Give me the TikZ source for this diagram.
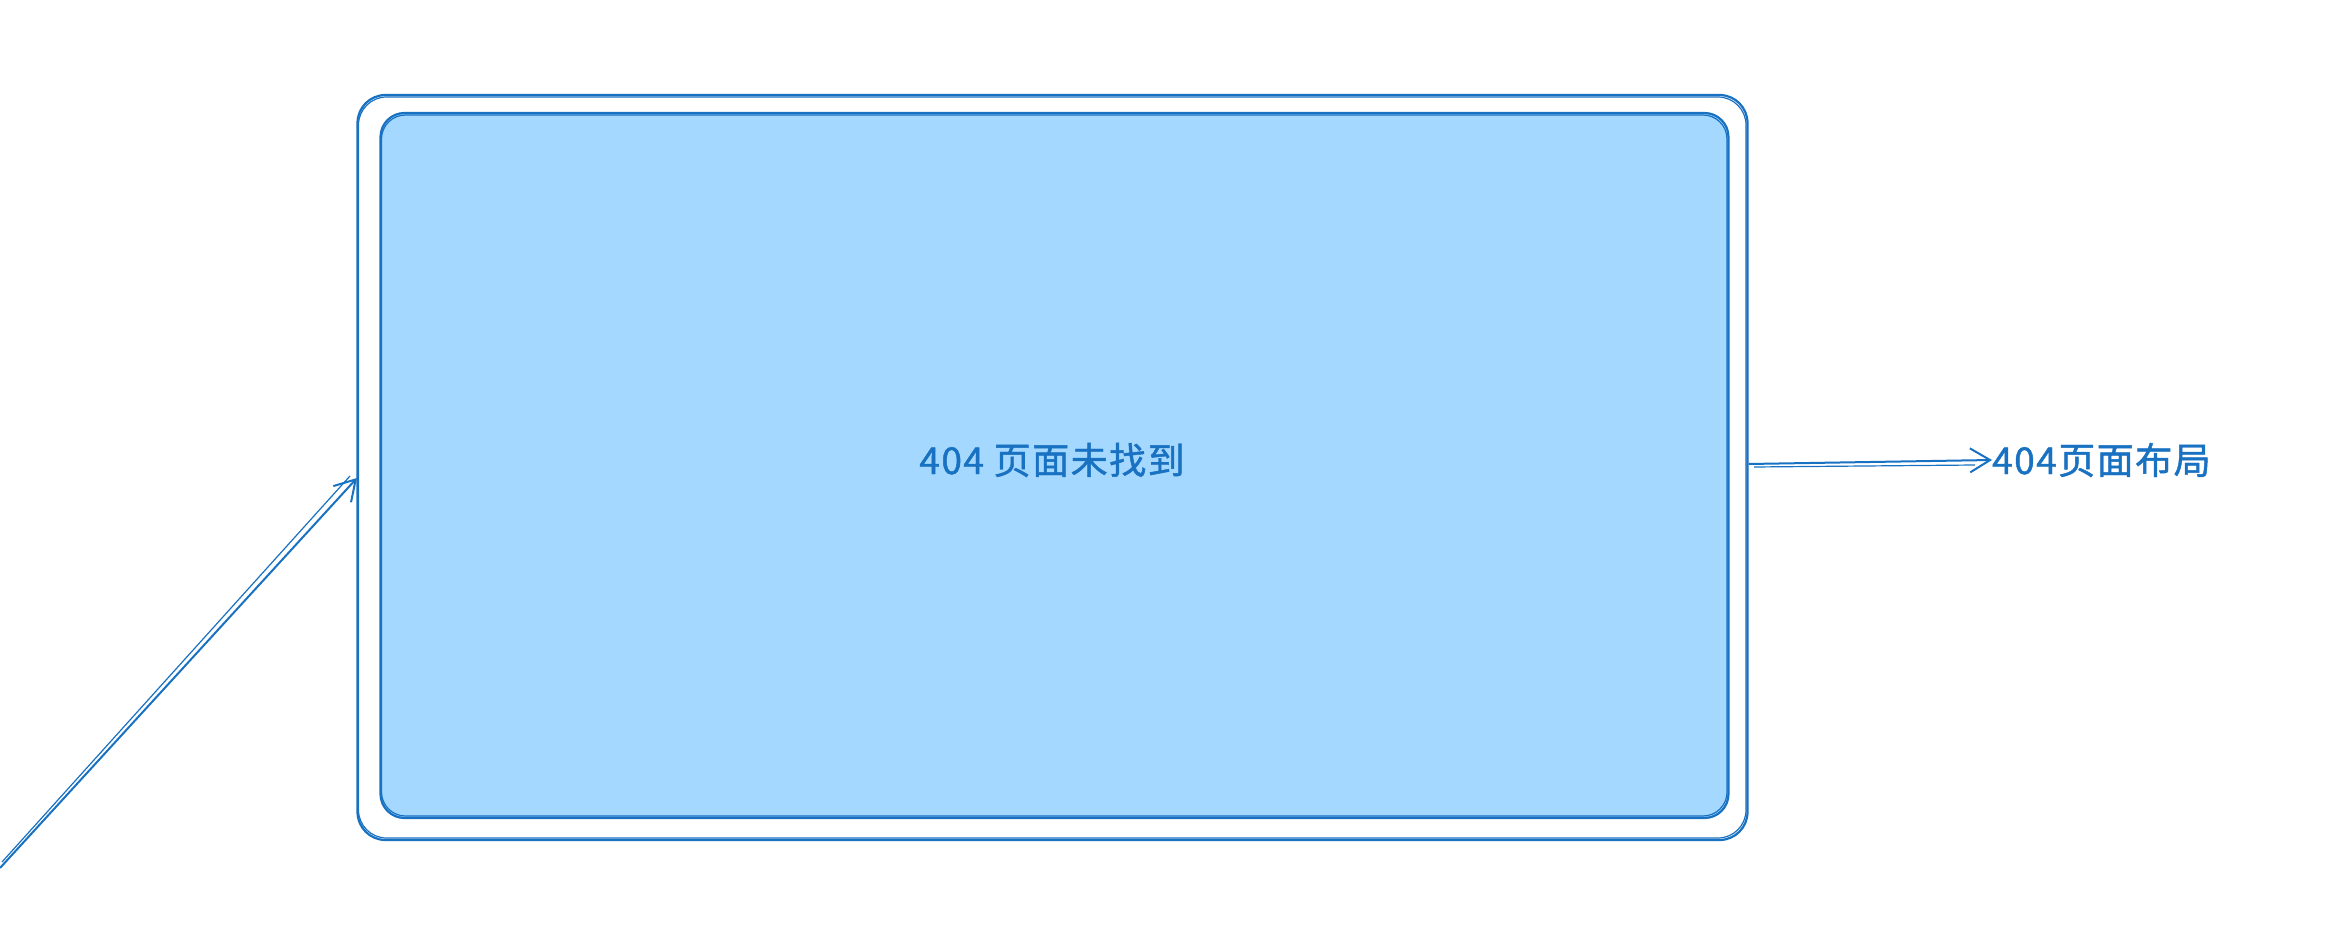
\documentclass[tikz,border=0pt]{standalone}
\usepackage{fontspec}
\newfontfamily\cjk{Noto Sans CJK SC}[LetterSpace=4,FakeBold=1.2]
\usetikzlibrary{arrows.meta}
\definecolor{skblue}{HTML}{1971C2}
\definecolor{fillblue}{HTML}{A5D8FF}
\tikzset{
  sk/.style={draw=skblue, line width=2.2pt, rounded corners=28pt},
  skthin/.style={draw=skblue, line width=1.2pt, rounded corners=28pt},
  lbl/.style={text=skblue, font=\cjk\fontsize{37}{42}\selectfont, inner sep=0pt},
  conn/.style={draw=skblue, line width=2pt, -{Straight Barb[length=20pt,width=24pt,line width=2pt]}},
  connthin/.style={draw=skblue, line width=1.2pt},
}
\begin{document}
\begin{tikzpicture}[x=1pt,y=1pt]
\useasboundingbox (0,0) rectangle (2327,-933);
\fill[white] (0,0) rectangle (2327,-933);
% outer frame
\node[sk, minimum width=1390pt, minimum height=745pt, inner sep=0pt] (outer) at (1052.5,-467.5) {};
\draw[skthin] (358.5,-97) rectangle (1746,-838);
% inner filled box
\node[sk, fill=fillblue, rounded corners=24pt, minimum width=1348pt, minimum height=705pt, inner sep=0pt] (inner) at (1054.5,-465.5) {};
\draw[skthin, rounded corners=24pt] (381.5,-115) rectangle (1727,-816);
% text
\node[lbl] (t1) at (1052,-460) {404 页面未找到};
\node[lbl, anchor=west] (t2) at (1992,-460) {404页面布局};
% connectors
\coordinate (start) at (0,-868);
\coordinate (hit) at (357,-478);
\draw[conn] (outer.east |- 0,-464) -- (t2.west);
\draw[connthin] (1754,-467) -- (1975,-465);
\draw[conn] (start) -- (hit);
\draw[connthin] (2,-862) -- (350,-476);
\end{tikzpicture}
\end{document}
